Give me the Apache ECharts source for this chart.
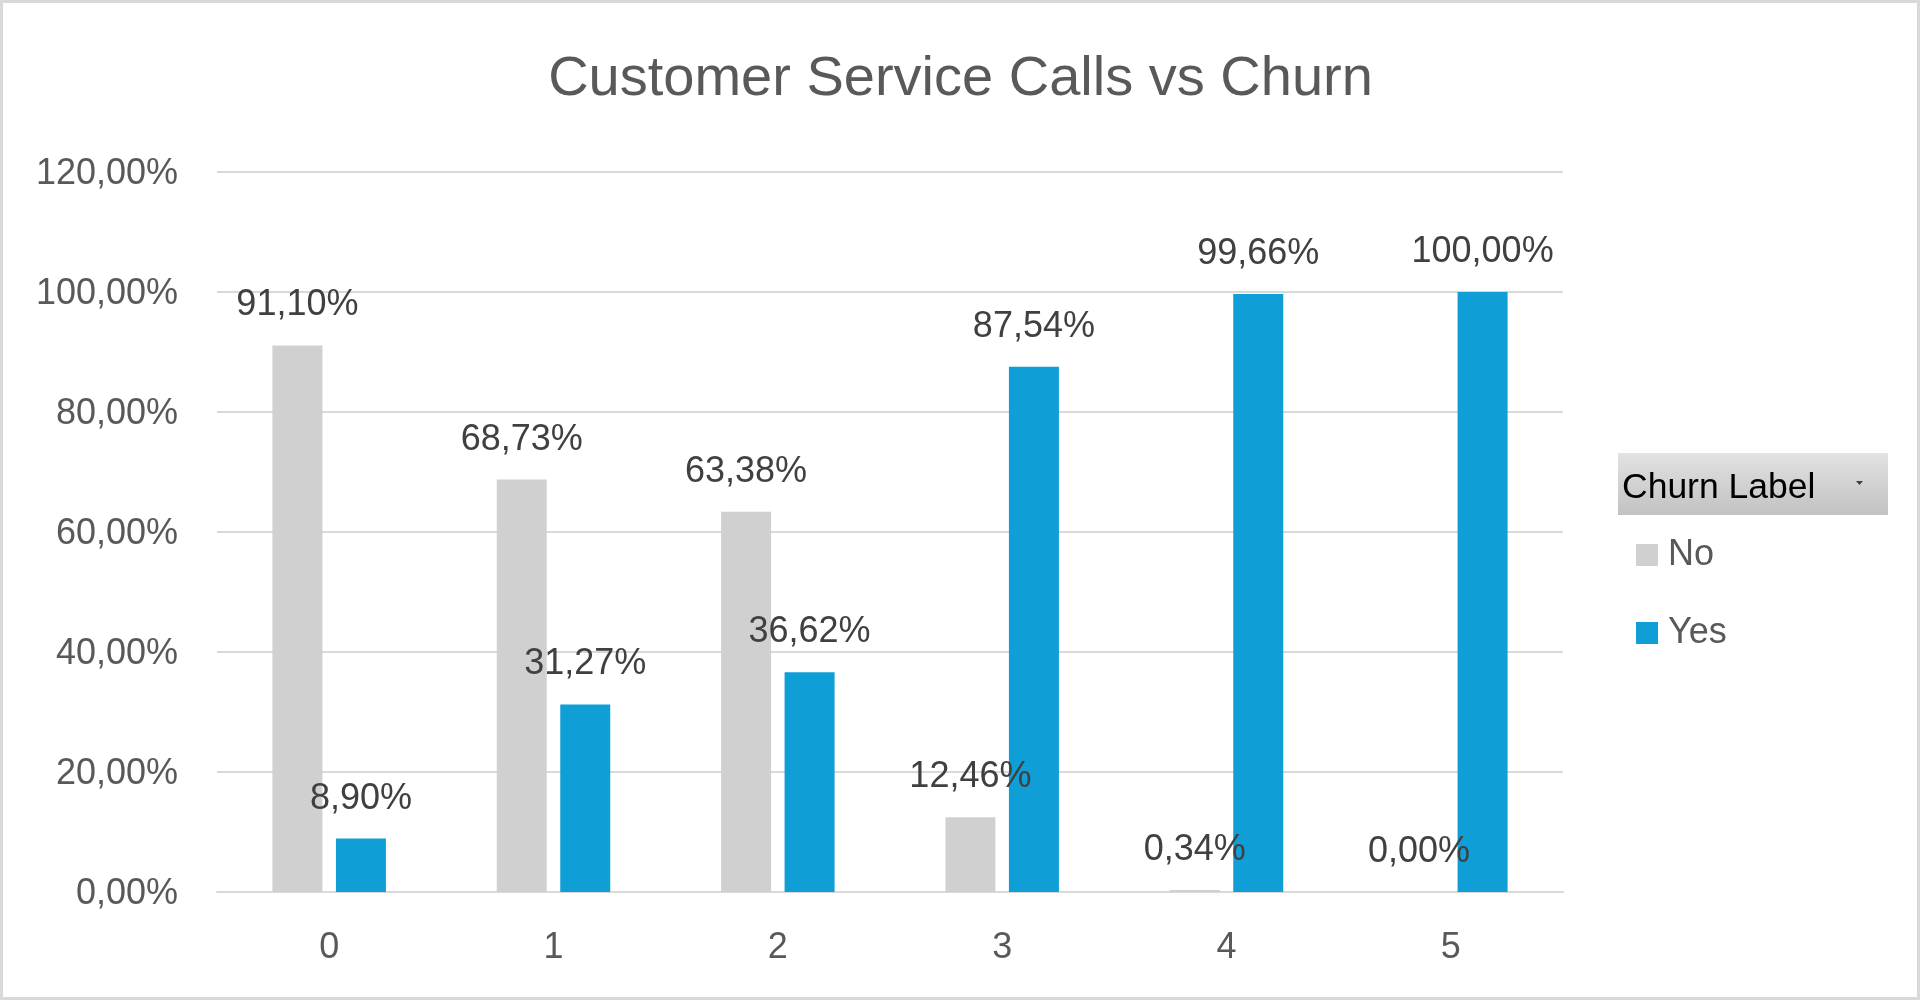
<!DOCTYPE html>
<html>
<head>
<meta charset="utf-8">
<script src="https://cdn.jsdelivr.net/npm/echarts@6/dist/echarts.min.js"></script>
<style>
html,body{margin:0;padding:0;background:#fff;}
#chart{width:1921px;height:1001px;}
</style>
</head>
<body>
<div id="chart"></div>
<script>
const categories = ['0', '1', '2', '3', '4', '5'];
const noValues = [91.10, 68.73, 63.38, 12.46, 0.34, 0.00];
const yesValues = [8.90, 31.27, 36.62, 87.54, 99.66, 100.00];
const seriesNames = ['No', 'Yes'];
const titleText = 'Customer Service Calls vs Churn';
const legendTitle = 'Churn Label';

const fmt = v => v.toFixed(2).replace('.', ',') + '%';
const FONT = '"Liberation Sans", Arial, sans-serif';

const chart = echarts.init(document.getElementById('chart'));
const labelStyle = {
  show: true,
  position: 'top',
  distance: 22,
  color: '#404040',
  fontSize: 36,
  fontFamily: FONT,
  formatter: p => fmt(p.value)
};
chart.setOption({
  backgroundColor: '#ffffff',
  animation: false,
  title: {
    text: titleText,
    left: 'center',
    top: 47,
    textStyle: { color: '#595959', fontSize: 56, fontWeight: 'normal', fontFamily: FONT }
  },
  legend: {
    orient: 'vertical',
    left: 1631,
    top: 532,
    itemWidth: 22,
    itemHeight: 22,
    itemGap: 42,
    icon: 'rect',
    data: seriesNames,
    textStyle: { color: '#595959', fontSize: 36, fontFamily: FONT, lineHeight: 36, padding: [0, 0, 0, 5] }
  },
  grid: { left: 217, right: 358, top: 172, bottom: 109 },
  xAxis: {
    type: 'category',
    data: categories,
    axisTick: { show: false },
    axisLine: { lineStyle: { color: '#d9d9d9', width: 2 } },
    axisLabel: { color: '#595959', fontSize: 36, fontFamily: FONT, margin: 38 }
  },
  yAxis: {
    type: 'value',
    min: 0,
    max: 120,
    interval: 20,
    axisLine: { show: false },
    axisTick: { show: false },
    splitLine: { lineStyle: { color: '#d9d9d9', width: 2 } },
    axisLabel: {
      color: '#595959', fontSize: 36, fontFamily: FONT, margin: 39,
      formatter: v => '{a|' + fmt(v) + '}',
      rich: { a: { color: '#595959', fontSize: 36, fontFamily: FONT, padding: [5, 0, 0, 0] } }
    }
  },
  series: [
    { name: seriesNames[0], type: 'bar', data: noValues, barWidth: 50, barGap: '27%',
      itemStyle: { color: '#D0D0D0' }, label: labelStyle },
    { name: seriesNames[1], type: 'bar', data: yesValues, barWidth: 50, barGap: '27%',
      itemStyle: { color: '#0F9ED5' }, label: labelStyle }
  ],
  graphic: [
    { type: 'rect', shape: { x: 1.5, y: 1.5, width: 1917, height: 997 }, silent: true,
      style: { fill: 'none', stroke: '#d9d9d9', lineWidth: 3 } },
    { type: 'rect', shape: { x: 1618, y: 453, width: 270, height: 62 }, silent: true,
      style: { fill: new echarts.graphic.LinearGradient(0, 0, 0, 1, [
        { offset: 0, color: '#e2e2e2' }, { offset: 1, color: '#c2c2c2' }]) } },
    { type: 'text', left: 1622, top: 470, silent: true,
      style: { text: legendTitle, fill: '#000000', fontSize: 35.5, fontFamily: FONT } },
    { type: 'polygon', silent: true,
      shape: { points: [[1856, 481], [1863, 481], [1859.5, 485]] },
      style: { fill: '#404040' } }
  ]
});
</script>
</body>
</html>
